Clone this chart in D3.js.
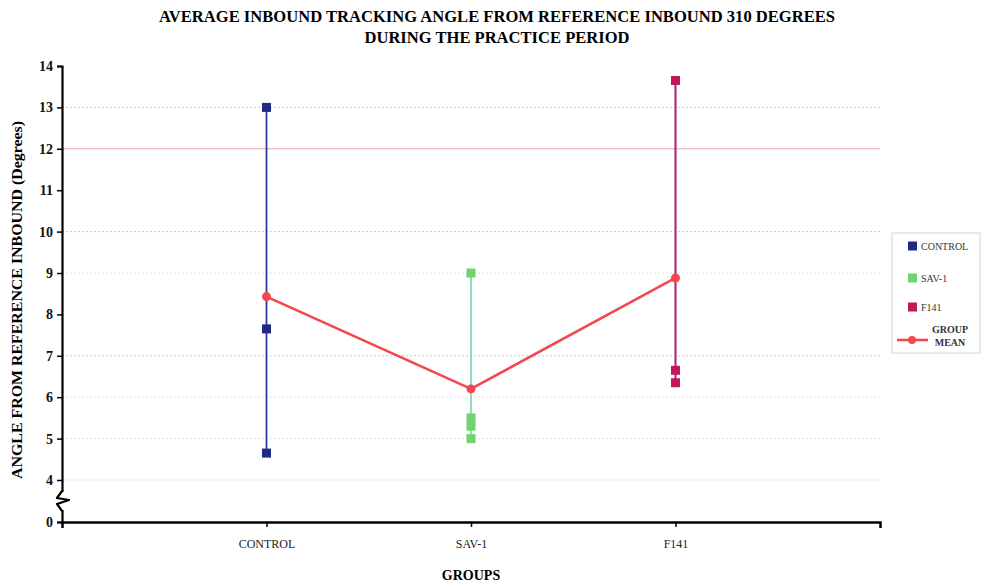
<!DOCTYPE html>
<html>
<head>
<meta charset="utf-8">
<script src="https://cdn.jsdelivr.net/npm/d3@7"></script>
<style>
  html, body { margin: 0; padding: 0; background: #fff; }
  svg { display: block; }
</style>
</head>
<body>
<svg id="chart" width="983" height="587"></svg>
<script>
// Group names and the individual readings in each group
const groups = ["CONTROL", "SAV-1", "F141"];
const controlValues = [13.0, 7.65, 4.65];
const sav1Values = [9.0, 5.5, 5.3, 5.0];
const f141Values = [13.65, 6.65, 6.35];
const groupMeans = [8.43, 6.2, 8.88];

// Axis ticks (the gap between 0 and 4 is shown as a break)
const yTicks = [0, 4, 5, 6, 7, 8, 9, 10, 11, 12, 13, 14];
const gridValues = [4, 5, 6, 7, 9, 10, 12, 13];

const seriesList = [
  { name: "CONTROL", values: controlValues, fill: "#1e2a86", stroke: "#2d3c9c" },
  { name: "SAV-1", values: sav1Values, fill: "#6fd46f", stroke: "#86d7b8" },
  { name: "F141", values: f141Values, fill: "#c4175a", stroke: "#a8307e" }
];

const svg = d3.select("#chart");
const plotLeft = 62, plotRight = 880, plotTop = 66, plotBottom = 522;
const serif = "'Liberation Serif', 'DejaVu Serif', serif";

const x = d3.scalePoint().domain(groups).range([plotLeft, plotRight]).padding(1);
// piecewise scale: 0 sits one unit below 4, then linear up to 14
const y = d3.scaleLinear().domain([0, 4, 14]).range([plotBottom, 480, plotTop]);

// Title
const title = svg.append("text")
  .attr("x", 497).attr("text-anchor", "middle")
  .attr("font-family", serif).attr("font-weight", "bold").attr("font-size", 16.5);
title.append("tspan").attr("x", 497).attr("y", 22)
  .attr("textLength", 676).attr("lengthAdjust", "spacingAndGlyphs")
  .text("AVERAGE INBOUND TRACKING ANGLE FROM REFERENCE INBOUND 310 DEGREES");
title.append("tspan").attr("x", 497).attr("y", 43)
  .attr("textLength", 265).attr("lengthAdjust", "spacingAndGlyphs")
  .text("DURING THE PRACTICE PERIOD");

// Gridlines
svg.append("g").selectAll("line").data(gridValues).join("line")
  .attr("x1", plotLeft).attr("x2", plotRight)
  .attr("y1", d => y(d)).attr("y2", d => y(d))
  .attr("stroke", d => d === 12 ? "#e4a8b4" : "#c8c8d0")
  .attr("stroke-width", 1)
  .attr("stroke-dasharray", d => d === 12 ? null : "2,2")
  .attr("opacity", d => (d === 6 || d === 4 || d === 5 || d === 9) ? 0.55 : 1);

// Y axis
const yAxis = svg.append("g")
  .attr("transform", `translate(${plotLeft},0)`)
  .call(d3.axisLeft(y).tickValues(yTicks).tickSize(5).tickPadding(4).tickFormat(d3.format("d")));
yAxis.select(".domain").attr("stroke", "#000").attr("stroke-width", 2.2);
yAxis.selectAll(".tick line").attr("stroke", "#000").attr("stroke-width", 1.5);
yAxis.selectAll(".tick text")
  .attr("font-family", serif).attr("font-weight", "bold").attr("font-size", 14).attr("fill", "#111");

// Axis break zigzag between 0 and 4
const by = (y(4) + y(0)) / 2;
svg.append("rect").attr("x", plotLeft - 3).attr("y", by - 9).attr("width", 6).attr("height", 18).attr("fill", "#fff");
svg.append("path")
  .attr("d", `M${plotLeft},${by - 10} L${plotLeft - 5},${by - 3} L${plotLeft + 7},${by - 1} L${plotLeft - 5},${by + 3} L${plotLeft},${by + 10}`)
  .attr("fill", "none").attr("stroke", "#000").attr("stroke-width", 2.2).attr("stroke-linejoin", "round");

// X axis
const xAxis = svg.append("g")
  .attr("transform", `translate(0,${plotBottom})`)
  .call(d3.axisBottom(x).tickSize(5).tickPadding(12).tickSizeOuter(6));
xAxis.select(".domain").attr("stroke", "#000").attr("stroke-width", 2.5);
xAxis.selectAll(".tick line").attr("stroke", "#000").attr("stroke-width", 1.5);
xAxis.selectAll(".tick text")
  .attr("font-family", serif).attr("font-size", 12).attr("fill", "#222");

// Axis titles
svg.append("text")
  .attr("transform", "translate(22,300) rotate(-90)")
  .attr("text-anchor", "middle")
  .attr("font-family", serif).attr("font-weight", "bold").attr("font-size", 15)
  .attr("textLength", 358).attr("lengthAdjust", "spacingAndGlyphs")
  .text("ANGLE FROM REFERENCE INBOUND (Degrees)");
svg.append("text")
  .attr("x", 471).attr("y", 580).attr("text-anchor", "middle")
  .attr("font-family", serif).attr("font-weight", "bold").attr("font-size", 14)
  .text("GROUPS");

// Range line and readings for each group
seriesList.forEach(s => {
  const g = svg.append("g");
  const cx = x(s.name);
  g.append("line")
    .attr("x1", cx).attr("x2", cx)
    .attr("y1", y(d3.max(s.values))).attr("y2", y(d3.min(s.values)))
    .attr("stroke", s.stroke).attr("stroke-width", s.name === "F141" ? 2.2 : 1.8);
  g.selectAll("rect").data(s.values).join("rect")
    .attr("x", cx - 4.5).attr("y", d => y(d) - 4.5)
    .attr("width", 9).attr("height", 9)
    .attr("fill", s.fill);
});

// Group mean line
const meanData = groups.map((g, i) => ({ group: g, value: groupMeans[i] }));
svg.append("path").datum(meanData)
  .attr("d", d3.line().x(d => x(d.group)).y(d => y(d.value)))
  .attr("fill", "none").attr("stroke", "#f2474f").attr("stroke-width", 2.6);
svg.append("g").selectAll("circle").data(meanData).join("circle")
  .attr("cx", d => x(d.group)).attr("cy", d => y(d.value)).attr("r", 4.5)
  .attr("fill", "#f2474f");

// Legend
const lg = svg.append("g");
lg.append("rect").attr("x", 892).attr("y", 233).attr("width", 88).attr("height", 120)
  .attr("fill", "#fff").attr("stroke", "#d4d4d4").attr("stroke-width", 1);
seriesList.forEach((s, i) => {
  const ly = [246, 278, 307][i];
  lg.append("rect").attr("x", 908).attr("y", ly - 4.5).attr("width", 9).attr("height", 9).attr("fill", s.fill);
  lg.append("text").attr("x", 921).attr("y", ly + 3.5)
    .attr("font-family", serif).attr("font-size", 10).attr("fill", "#333").text(s.name);
});
lg.append("line").attr("x1", 897).attr("x2", 928).attr("y1", 340).attr("y2", 340)
  .attr("stroke", "#f2474f").attr("stroke-width", 2.6);
lg.append("circle").attr("cx", 912).attr("cy", 340).attr("r", 4).attr("fill", "#f2474f");
const mt = lg.append("text").attr("text-anchor", "middle")
  .attr("font-family", serif).attr("font-size", 10).attr("font-weight", "bold").attr("fill", "#333");
mt.append("tspan").attr("x", 950).attr("y", 333).text("GROUP");
mt.append("tspan").attr("x", 950).attr("y", 346).text("MEAN");
</script>
</body>
</html>
